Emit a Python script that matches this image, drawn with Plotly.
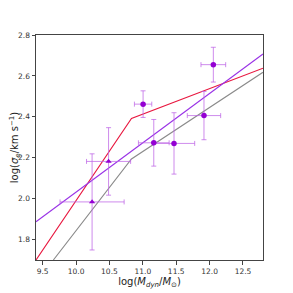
import plotly.graph_objects as go

# triangles
tri_x = [10.24, 10.487]
tri_y = [1.984, 2.182]
tri_xerr = [0.48, 0.33]
tri_yerr = [0.235, 0.165]

# circles
circ_x = [11.004, 12.056, 11.916, 11.164, 11.467]
circ_y = [2.462, 2.655, 2.406, 2.273, 2.270]
circ_xerr = [0.13, 0.185, 0.25, 0.23, 0.31]
circ_yerr = [0.065, 0.085, 0.118, 0.114, 0.15]

# model lines
red_x = [9.4, 10.83, 12.8]
red_y = [1.70, 2.392, 2.638]
grey_x = [9.66, 10.83, 12.8]
grey_y = [1.70, 2.194, 2.618]
purple_x = [9.4, 12.8]
purple_y = [1.887, 2.707]

x_ticks = [9.5, 10.0, 10.5, 11.0, 11.5, 12.0, 12.5]
y_ticks = [1.8, 2.0, 2.2, 2.4, 2.6, 2.8]

ecol = "rgba(190,100,230,0.75)"
mcol = "#9400D3"

fig = go.Figure()
fig.add_trace(go.Scatter(x=grey_x, y=grey_y, mode="lines",
                         line=dict(color="#8a8a8a", width=1.1)))
fig.add_trace(go.Scatter(x=red_x, y=red_y, mode="lines",
                         line=dict(color="#e8173f", width=1.1)))
fig.add_trace(go.Scatter(x=purple_x, y=purple_y, mode="lines",
                         line=dict(color="#9932e6", width=1.1)))
fig.add_trace(go.Scatter(
    x=tri_x, y=tri_y, mode="markers",
    marker=dict(symbol="triangle-up", size=5.5, color=mcol),
    error_x=dict(type="data", array=tri_xerr, color=ecol, thickness=1, width=2.5),
    error_y=dict(type="data", array=tri_yerr, color=ecol, thickness=1, width=2.5)))
fig.add_trace(go.Scatter(
    x=circ_x, y=circ_y, mode="markers",
    marker=dict(symbol="circle", size=5.5, color=mcol),
    error_x=dict(type="data", array=circ_xerr, color=ecol, thickness=1, width=2.5),
    error_y=dict(type="data", array=circ_yerr, color=ecol, thickness=1, width=2.5)))

axis_common = dict(showgrid=False, zeroline=False, showline=True, mirror=True,
                   linecolor="#444444", linewidth=1, ticks="outside", ticklen=3.5,
                   tickcolor="#444444", tickwidth=0.8, automargin=False,
                   tickfont=dict(family="DejaVu Sans", size=7.5, color="#333333"))

fig.update_layout(
    width=285, height=285, showlegend=False,
    paper_bgcolor="white", plot_bgcolor="white",
    margin=dict(l=28, r=29.5, t=27, b=33),
    xaxis=dict(range=[9.4, 12.8], tickvals=x_ticks,
               ticktext=[f"{v:.1f}" for v in x_ticks],
               title=dict(text="log(<i>M</i><sub><i>dyn</i></sub>/<i>M</i><sub>⊙</sub>)",
                          font=dict(family="DejaVu Sans", size=10, color="#222222"),
                          standoff=0),
               **axis_common),
    yaxis=dict(range=[1.7, 2.8], tickvals=y_ticks,
               ticktext=[f"{v:.1f}" for v in y_ticks],
               title=dict(text="log(<i>σ</i><sub><i>e</i></sub>/km s<sup>−1</sup>)",
                          font=dict(family="DejaVu Sans", size=10, color="#222222"),
                          standoff=6),
               **axis_common),
)

fig.write_html("out.html")
